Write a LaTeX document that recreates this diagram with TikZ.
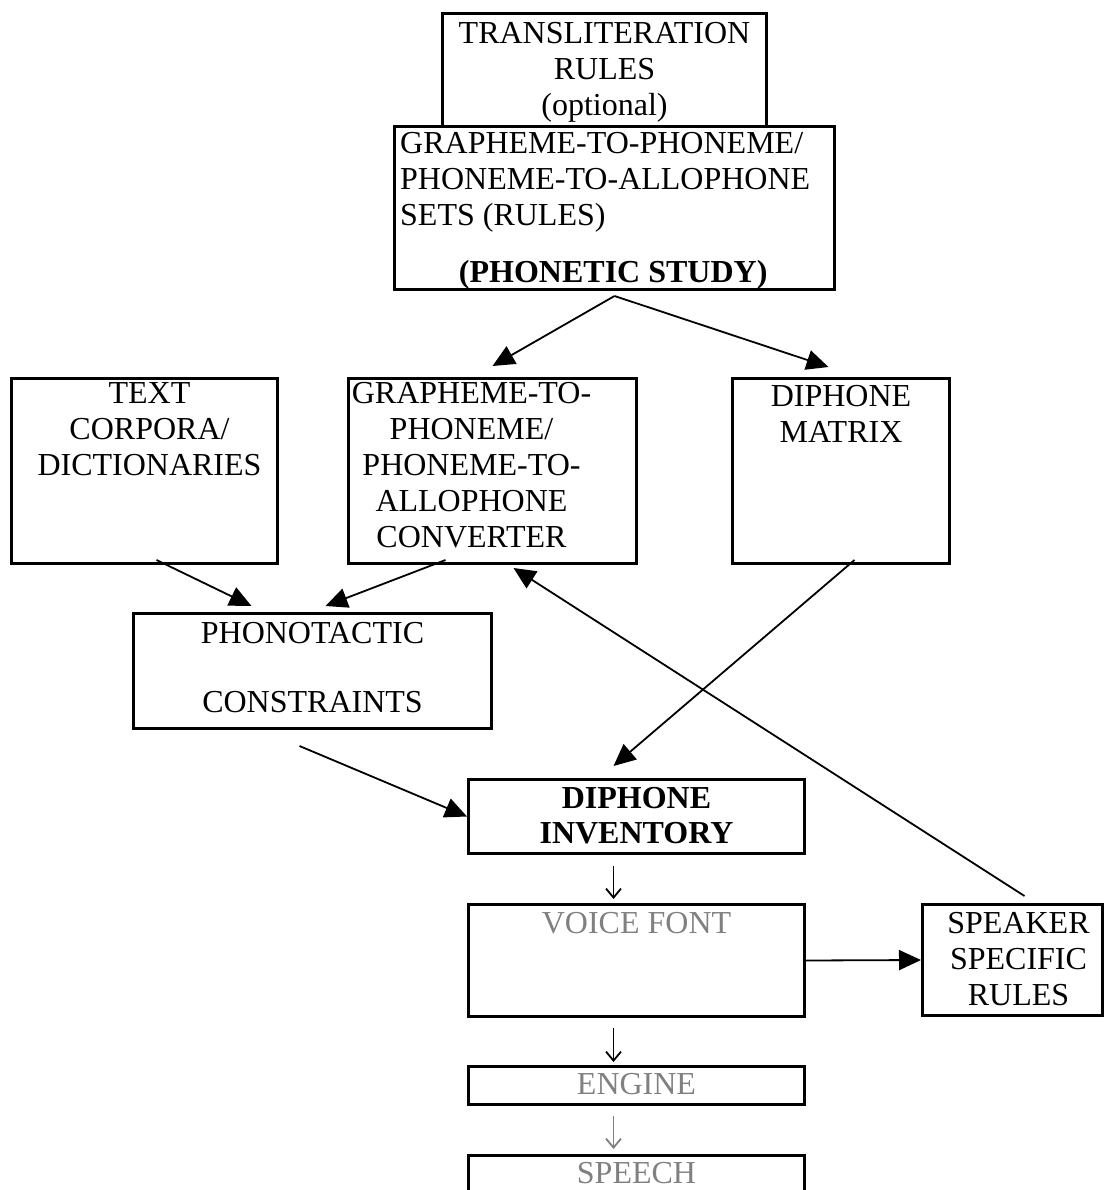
\documentclass[tikz,border=0pt]{standalone}
\usepackage{fontspec}
\setmainfont{Liberation Serif}
\usetikzlibrary{arrows.meta}
\definecolor{softgray}{HTML}{808080}
\tikzset{
    block/.style={draw,line width=3pt,anchor=north west,inner sep=0pt},
    txt/.style={anchor=north,align=center,inner sep=0pt},
    arr/.style={line width=1.8pt,-{Triangle[length=22pt,width=20pt]}},
    down/.style={line width=1.8pt,-{Straight Barb[length=9pt,width=15pt]}}
}
\newcommand{\studytext}{\parbox{426pt}{\raggedright GRAPHEME-TO-PHONEME/\\PHONEME-TO-ALLOPHONE\\SETS (RULES)\par\vspace{21pt}\centering\textbf{(PHONETIC STUDY)}}}

\begin{document}
\begin{tikzpicture}[x=1pt,y=-1pt,font=\fontsize{32}{36}\selectfont]
    \useasboundingbox (0,0) rectangle (1104,1190);
    \clip (0,0) rectangle (1104,1190);
    % rule boxes on top
    \node[block,minimum width=324,minimum height=113,
        label={[txt,yshift=-10pt]north:TRANSLITERATION\\RULES\\(optional)}] (translit) at (441,12) {};
    \node[block,minimum width=440,minimum height=163,
        label={[anchor=north west,inner sep=0pt,xshift=7pt,yshift=-7pt]north west:\studytext}] (phonetic) at (393,125) {};
    % middle row
    \node[block,minimum width=266,minimum height=185,
        label={[txt,xshift=5pt,yshift=-5pt]north:TEXT\\CORPORA/\\DICTIONARIES}] (corpora) at (10,377) {};
    \node[block,minimum width=288,minimum height=185,
        label={[txt,xshift=-21pt,yshift=-5pt]north:GRAPHEME-TO-\\PHONEME/\\PHONEME-TO-\\ALLOPHONE\\CONVERTER}] (g2p) at (347,377) {};
    \node[block,minimum width=217,minimum height=185,
        label={[txt,yshift=-8pt]north:DIPHONE\\MATRIX}] (matrix) at (731,377) {};
    \node[block,minimum width=358,minimum height=115,
        label={[txt,yshift=-10pt]north:PHONOTACTIC\\[33pt]CONSTRAINTS}] (phono) at (132,612) {};
    % synthesis chain
    \node[block,minimum width=336,minimum height=74,
        label={[txt,yshift=-9pt,font=\fontsize{32}{35}\selectfont\bfseries]north:DIPHONE\\INVENTORY}] (inventory) at (467,778) {};
    \node[block,minimum width=336,minimum height=112,
        label={[txt,yshift=-9pt,text=softgray]north:VOICE FONT}] (voice) at (467,903) {};
    \node[block,minimum width=180,minimum height=111,
        label={[txt,xshift=6pt,yshift=-9pt]north:SPEAKER\\SPECIFIC\\RULES}] (speaker) at (921,903) {};
    \node[block,minimum width=336,minimum height=38,
        label={[txt,yshift=-8pt,text=softgray]north:ENGINE}] (engine) at (467,1065) {};
    \node[block,minimum width=336,minimum height=60,
        label={[txt,yshift=-8pt,text=softgray]north:SPEECH}] (speech) at (467,1154) {};

    \draw[arr] ([yshift=-5pt]phonetic.south) -- ([yshift=11pt]g2p.north);
    \draw[arr] ([yshift=-5pt]phonetic.south) -- ([xshift=-12.5pt,yshift=10pt]matrix.north);
    \draw[arr] ([xshift=12pt,yshift=5pt]corpora.south) -- ([xshift=-61pt,yshift=6pt]phono.north);
    \draw[arr] ([xshift=-47pt,yshift=5pt]g2p.south) -- ([xshift=13pt,yshift=6pt]phono.north);
    \draw[arr] ([xshift=13.5pt,yshift=5pt]matrix.south) -- ([xshift=-23pt,yshift=12pt]inventory.north);
    \draw[arr] ([xshift=-13pt,yshift=-16pt]phono.south) -- (inventory.west);
    \draw[arr] ([xshift=12pt,yshift=7pt]speaker.north) -- ([xshift=21pt,yshift=-3pt]g2p.south);
    \draw[arr] (voice.east) -- (speaker.west);
    \draw[down] ([xshift=-23pt,yshift=-11pt]inventory.south) -- ([xshift=-23pt,yshift=4pt]voice.north);
    \draw[down] ([xshift=-23pt,yshift=-10pt]voice.south) -- ([xshift=-23pt,yshift=3pt]engine.north);
    \draw[down,softgray] ([xshift=-23pt,yshift=-10pt]engine.south) -- ([xshift=-23pt,yshift=5pt]speech.north);
\end{tikzpicture}
\end{document}
